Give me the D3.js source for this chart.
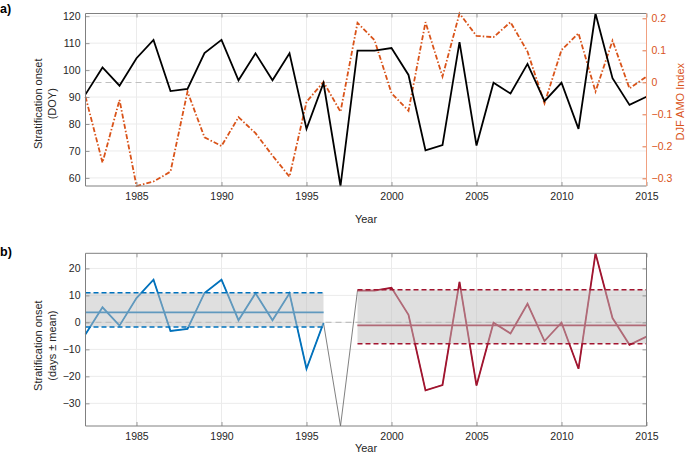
<!DOCTYPE html>
<html>
<head>
<meta charset="utf-8">
<script src="https://cdn.jsdelivr.net/npm/d3@7"></script>
<style>
  html, body { margin: 0; padding: 0; background: #fff; }
  svg { display: block; font-family: "Liberation Sans", Arial, sans-serif; }
</style>
</head>
<body>
<svg id="chart" width="685" height="455"></svg>
<script>
// ---------------- DATA ----------------
const years = [1982,1983,1984,1985,1986,1987,1988,1989,1990,1991,1992,1993,1994,1995,1996,1997,1998,1999,2000,2001,2002,2003,2004,2005,2006,2007,2008,2009,2010,2011,2012,2013,2014,2015];
const onsetDOY = [91,101,94.2,104.4,111.2,92.2,93,106.3,111.2,96.2,106.2,96.2,106.2,78.2,95.2,57,107.2,107.2,108.2,98.2,70.2,72.2,110.4,72,95.3,91.3,102.3,88.5,95.3,78.2,121,97,87.1,90.1];
const amoIndex = [-0.045,-0.251,-0.055,-0.324,-0.31,-0.279,-0.029,-0.172,-0.199,-0.109,-0.159,-0.229,-0.295,-0.061,0.001,-0.092,0.186,0.132,-0.034,-0.089,0.188,0.018,0.215,0.145,0.141,0.188,0.096,-0.066,0.101,0.153,-0.029,0.130,-0.019,0.018];
const onsetMean = 95.4;
const xTicks = [1985,1990,1995,2000,2005,2010,2015];
const yTicksA = [60,70,80,90,100,110,120];
const yTicksAMO = [-0.3,-0.2,-0.1,0,0.1,0.2];
const yTicksB = [-30,-20,-10,0,10,20];
// period statistics (days relative to mean)
const earlyPeriod = [1982, 1996];
const latePeriod = [1998, 2015];
const earlyStats = {mean: 3.7, low: -1.7, high: 11.0};
const lateStats = {mean: -1.1, low: -7.9, high: 12.1};

// ---------------- LAYOUT ----------------
const svg = d3.select("#chart");
const L = 85.5, R = 646.5;
const aTop = 13.5, aBot = 186;
const bTop = 253.3, bBot = 426;
const axisCol = "#808080", textCol = "#262626", gridCol = "#ebebeb";
const orange = "#D95319", blue = "#0072BD", red = "#A2142F";

const x = d3.scaleLinear().domain(d3.extent(years)).range([L, R]);
const yA = d3.scaleLinear().domain(d3.extent(onsetDOY)).range([aBot, aTop]);
const yAMO = d3.scaleLinear().domain(d3.extent(amoIndex)).range([aBot, aTop]);
const anomaly = onsetDOY.map(v => v - onsetMean);
const yB = d3.scaleLinear().domain(d3.extent(anomaly)).range([bBot, bTop]);

function styleAxis(g, col) {
  g.select(".domain").remove();
  g.selectAll(".tick line").attr("stroke", col).attr("stroke-width", 0.8);
  g.selectAll(".tick text").attr("fill", col === axisCol ? textCol : col)
    .style("font-size", "10.5px").style("font-family", "'Liberation Sans', Arial, sans-serif");
}

function panelFrame(yScale, top, bot, yTicks) {
  // grid
  const grid = svg.append("g");
  grid.selectAll("line.v").data(xTicks).join("line")
    .attr("x1", d => x(d)).attr("x2", d => x(d)).attr("y1", top).attr("y2", bot)
    .attr("stroke", gridCol).attr("stroke-width", 1);
  grid.selectAll("line.h").data(yTicks).join("line")
    .attr("x1", L).attr("x2", R).attr("y1", d => yScale(d)).attr("y2", d => yScale(d))
    .attr("stroke", gridCol).attr("stroke-width", 1);
}

function panelAxes(yScale, top, bot, yTicks, rightCol) {
  // x axis bottom
  const gx = svg.append("g").attr("transform", `translate(0,${bot})`)
    .call(d3.axisBottom(x).tickValues(xTicks).tickFormat(d3.format("d")).tickSizeInner(-4).tickSizeOuter(0).tickPadding(7));
  styleAxis(gx, axisCol);
  // x axis top (ticks only)
  const gxt = svg.append("g").attr("transform", `translate(0,${top})`)
    .call(d3.axisTop(x).tickValues(xTicks).tickFormat("").tickSizeInner(-4).tickSizeOuter(0));
  styleAxis(gxt, axisCol);
  // y left
  const gy = svg.append("g").attr("transform", `translate(${L},0)`)
    .call(d3.axisLeft(yScale).tickValues(yTicks).tickFormat(d3.format("d")).tickSizeInner(-4).tickSizeOuter(0).tickPadding(5));
  styleAxis(gy, axisCol);
  // frame
  svg.append("line").attr("x1", L).attr("x2", R).attr("y1", top).attr("y2", top).attr("stroke", axisCol);
  svg.append("line").attr("x1", L).attr("x2", R).attr("y1", bot).attr("y2", bot).attr("stroke", axisCol);
  svg.append("line").attr("x1", L).attr("x2", L).attr("y1", top).attr("y2", bot).attr("stroke", axisCol);
  if (!rightCol) {
    const gyr = svg.append("g").attr("transform", `translate(${R},0)`)
      .call(d3.axisRight(yScale).tickValues(yTicks).tickFormat("").tickSizeInner(-4).tickSizeOuter(0));
    styleAxis(gyr, axisCol);
    svg.append("line").attr("x1", R).attr("x2", R).attr("y1", top).attr("y2", bot).attr("stroke", axisCol);
  }
}

// ================= PANEL A =================
panelFrame(yA, aTop, aBot, yTicksA);
// mean dashed line
svg.append("line").attr("x1", L).attr("x2", R).attr("y1", yA(onsetMean)).attr("y2", yA(onsetMean))
  .attr("stroke", "#c0c0c0").attr("stroke-width", 1.2).attr("stroke-dasharray", "6,4");

const lineA = d3.line().x((d, i) => x(years[i])).y(d => yA(d));
const lineAMO = d3.line().x((d, i) => x(years[i])).y(d => yAMO(d));

svg.append("path").datum(amoIndex).attr("d", lineAMO)
  .attr("fill", "none").attr("stroke", orange).attr("stroke-width", 1.8)
  .attr("stroke-dasharray", "5,2,1.5,2");
svg.append("path").datum(onsetDOY).attr("d", lineA)
  .attr("fill", "none").attr("stroke", "#000").attr("stroke-width", 1.8).attr("stroke-linejoin", "miter");

panelAxes(yA, aTop, aBot, yTicksA, orange);
// right AMO axis
const gAMO = svg.append("g").attr("transform", `translate(${R},0)`)
  .call(d3.axisRight(yAMO).tickValues(yTicksAMO).tickFormat(d3.format(".1f")).tickSizeInner(-4).tickSizeOuter(0).tickPadding(5));
styleAxis(gAMO, orange);
gAMO.selectAll(".tick text").text(d => d === 0 ? "0" : d3.format(".1f")(d));
svg.append("line").attr("x1", R).attr("x2", R).attr("y1", aTop).attr("y2", aBot).attr("stroke", "#f0a080");

// labels panel a
svg.append("text").attr("x", 0).attr("y", 13).text("a)")
  .style("font-size", "12.5px").style("font-weight", "bold").attr("fill", "#000");
const ylabA = svg.append("g").attr("transform", `translate(0,${(aTop + aBot) / 2 + 4})`);
ylabA.append("text").attr("transform", "translate(42,0) rotate(-90)").attr("text-anchor", "middle")
  .style("font-size", "11px").attr("fill", textCol).text("Stratification onset");
ylabA.append("text").attr("transform", "translate(56,0) rotate(-90)").attr("text-anchor", "middle")
  .style("font-size", "11px").attr("fill", textCol).text("(DOY)");
svg.append("text").attr("transform", `translate(684,${(aTop + aBot) / 2 + 2}) rotate(-90)`).attr("text-anchor", "middle")
  .style("font-size", "11px").attr("fill", orange).text("DJF AMO Index");
svg.append("text").attr("x", (L + R) / 2).attr("y", 223).attr("text-anchor", "middle")
  .style("font-size", "11px").attr("fill", textCol).text("Year");

// ================= PANEL B =================
panelFrame(yB, bTop, bBot, yTicksB);
svg.append("line").attr("x1", L).attr("x2", R).attr("y1", yB(0)).attr("y2", yB(0))
  .attr("stroke", "#c0c0c0").attr("stroke-width", 1.2).attr("stroke-dasharray", "6,4");

const lineB = d3.line().x(d => x(d.year)).y(d => yB(d.v));
const anomPts = years.map((yr, i) => ({year: yr, v: anomaly[i]}));
// full series thin gray
svg.append("path").datum(anomPts).attr("d", lineB)
  .attr("fill", "none").attr("stroke", "#606060").attr("stroke-width", 0.8);

function period(range, stats, col) {
  const pts = anomPts.filter(d => d.year >= range[0] && d.year <= range[1]);
  svg.append("path").datum(pts).attr("d", lineB)
    .attr("fill", "none").attr("stroke", col).attr("stroke-width", 1.8);
  // mean line
  svg.append("line").attr("x1", x(range[0])).attr("x2", x(range[1]))
    .attr("y1", yB(stats.mean)).attr("y2", yB(stats.mean))
    .attr("stroke", col).attr("stroke-width", 1.6);
  // shaded band (over lines)
  svg.append("rect").attr("x", x(range[0])).attr("width", x(range[1]) - x(range[0]))
    .attr("y", yB(stats.high)).attr("height", yB(stats.low) - yB(stats.high))
    .attr("fill", "#bfbfbf").attr("fill-opacity", 0.5);
  // bounds
  [stats.low, stats.high].forEach(v => {
    svg.append("line").attr("x1", x(range[0])).attr("x2", x(range[1]))
      .attr("y1", yB(v)).attr("y2", yB(v))
      .attr("stroke", col).attr("stroke-width", 1.6).attr("stroke-dasharray", "5,3");
  });
}
period(earlyPeriod, earlyStats, blue);
period(latePeriod, lateStats, red);

panelAxes(yB, bTop, bBot, yTicksB, null);

svg.append("text").attr("x", 0).attr("y", 256).text("b)")
  .style("font-size", "12.5px").style("font-weight", "bold").attr("fill", "#000");
const ylabB = svg.append("g").attr("transform", `translate(0,${(bTop + bBot) / 2 + 6})`);
ylabB.append("text").attr("transform", "translate(42,0) rotate(-90)").attr("text-anchor", "middle")
  .style("font-size", "11px").attr("fill", textCol).text("Stratification onset");
ylabB.append("text").attr("transform", "translate(56,0) rotate(-90)").attr("text-anchor", "middle")
  .style("font-size", "11px").attr("fill", textCol).text("(days \u00B1 mean)");
svg.append("text").attr("x", (L + R) / 2).attr("y", 452).attr("text-anchor", "middle")
  .style("font-size", "11px").attr("fill", textCol).text("Year");
</script>
</body>
</html>
